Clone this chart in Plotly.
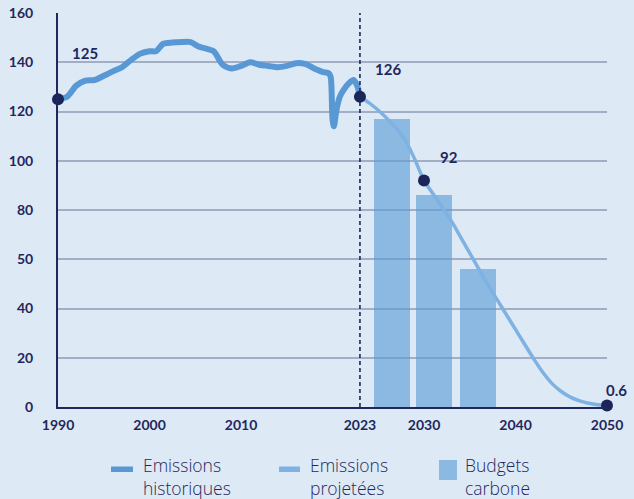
import plotly.graph_objects as go

# --- data -----------------------------------------------------------------
hist_years = [1990, 1991, 1992, 1993, 1994, 1995, 1996, 1997, 1998, 1999,
              2000, 2000.7, 2001.5, 2002.5, 2003.5, 2004.5, 2005.3, 2006,
              2007, 2008, 2009, 2010, 2011, 2012, 2013, 2014, 2015, 2016,
              2017, 2018, 2019, 2019.6, 2019.8, 2020.0, 2020.15, 2020.45,
              2020.8, 2021.2, 2021.8, 2022.3, 2022.7, 2023]
hist_values = [125, 126, 130.5, 132.5, 132.8, 134.5, 136.3, 138, 141, 143.5,
               144.5, 144.5, 147.5, 148, 148.2, 148.2, 146.5, 145.7,
               144.5, 139, 137.5, 138.5, 140, 139, 138.5, 138, 138.5, 139.6,
               139.3, 137.5, 136, 135.5, 134, 117, 114, 121, 126, 128.7,
               131.5, 132.8, 130.5, 126]

proj_years = list(range(2023, 2051))
proj_values = [126, 123.5, 120.5, 117, 113, 108, 100.5, 92, 86.5, 81,
               75.5, 69, 62.5, 56, 49.5, 43.5, 37.5, 31.5, 25.5, 19.5,
               14, 9.5, 6.3, 4, 2.5, 1.5, 0.9, 0.6]

budget_centres = [2026.5, 2031.1, 2035.9]
budget_values = [117, 86, 56]

point_years = [1990, 2023, 2030, 2050]
point_values = [125, 126, 92, 0.6]
point_labels = ["125", "126", "92", "0.6"]
point_shift = [(27, 46), (28, 28), (25, 23), (9, 16)]

x_ticks = [1990, 2000, 2010, 2023, 2030, 2040, 2050]
y_ticks = [0, 20, 40, 60, 80, 100, 120, 140, 160]
y_tick_text = ["0", "20", "40", "50", "80", "100", "120", "140", "160"]

# --- styling ----------------------------------------------------------------
BG = "rgb(222,233,246)"
NAVY = "rgb(30,40,92)"
HIST = "rgb(88,153,213)"
PROJ = "rgb(125,178,226)"
BAR = "rgba(91,155,213,0.62)"
GRID = "rgb(163,173,198)"
FONT = "Lato"
LEG_FONT = "Open Sans"

fig = go.Figure()

fig.add_trace(go.Bar(x=budget_centres, y=budget_values, width=3.9,
                     marker=dict(color=BAR, line=dict(width=0)),
                     showlegend=False, hoverinfo="skip"))

fig.add_trace(go.Scatter(x=proj_years, y=proj_values, mode="lines",
                         line=dict(color=PROJ, width=3.5, shape="spline"),
                         showlegend=False, cliponaxis=False))

fig.add_trace(go.Scatter(x=hist_years, y=hist_values, mode="lines",
                         line=dict(color=HIST, width=6, shape="spline",
                                   smoothing=0.8),
                         showlegend=False, cliponaxis=False))

fig.add_trace(go.Scatter(x=point_years, y=point_values, mode="markers",
                         marker=dict(color="rgb(27,37,89)", size=12),
                         showlegend=False, cliponaxis=False))

for yr, val, txt, (dx, dy) in zip(point_years, point_values, point_labels,
                                  point_shift):
    fig.add_annotation(x=yr, y=val, text=txt, showarrow=False,
                       xshift=dx, yshift=dy,
                       font=dict(family=FONT, size=15, color=NAVY,
                                 weight="bold"))

# vertical dashed marker for the last observed year
fig.add_shape(type="line", x0=2023, x1=2023, y0=0, y1=161.5,
              line=dict(color=NAVY, width=1.6, dash="4px,3px"),
              layer="above")

# --- legend drawn in paper coordinates --------------------------------------
L, R, T, B = 58, 607, 13, 407


def px(x):
    return (x - L) / (R - L)


def py(y):
    return (B - y) / (B - T)


legend_items = [
    ("line", HIST, 111, 133, 141, "Emissions<br>historiques"),
    ("line", PROJ, 279, 300, 308, "Emissions<br>projetées"),
    ("rect", BAR, 439, 457, 463, "Budgets<br>carbone"),
]
for kind, col, a, b, tx, label in legend_items:
    if kind == "line":
        fig.add_shape(type="rect", xref="paper", yref="paper",
                      x0=px(a), x1=px(b), y0=py(472), y1=py(466.5),
                      fillcolor=col, line=dict(width=0))
    else:
        fig.add_shape(type="rect", xref="paper", yref="paper",
                      x0=px(a), x1=px(b), y0=py(480), y1=py(460),
                      fillcolor=col, line=dict(width=0))
    fig.add_annotation(xref="paper", yref="paper", x=px(tx), y=py(451),
                       text=label, showarrow=False, xanchor="left",
                       yanchor="top", align="left",
                       font=dict(family=LEG_FONT, size=17.5, color=NAVY,
                                 weight=300))

fig.update_layout(
    width=634, height=499,
    margin=dict(l=L, r=634 - R, t=T, b=499 - B, autoexpand=False),
    paper_bgcolor=BG, plot_bgcolor=BG,
    bargap=0,
    font=dict(family=FONT, color=NAVY),
)

fig.update_xaxes(range=[1990, 2050], tickvals=x_ticks,
                 ticktext=[str(t) for t in x_ticks],
                 showgrid=False, zeroline=False, automargin=False,
                 showline=True, linecolor=NAVY, linewidth=2,
                 ticks="outside", ticklen=4, tickcolor="rgba(0,0,0,0)",
                 tickfont=dict(family=FONT, size=14, color=NAVY,
                               weight="bold"))

fig.update_yaxes(range=[0, 160], tickvals=y_ticks, ticktext=y_tick_text,
                 showgrid=True, gridcolor=GRID, gridwidth=1.6,
                 zeroline=False, automargin=False,
                 showline=True, linecolor=NAVY, linewidth=2,
                 ticks="outside", ticklen=20, tickcolor="rgba(0,0,0,0)",
                 tickfont=dict(family=FONT, size=14, color=NAVY,
                               weight="bold"))

fig.write_html("out.html")
